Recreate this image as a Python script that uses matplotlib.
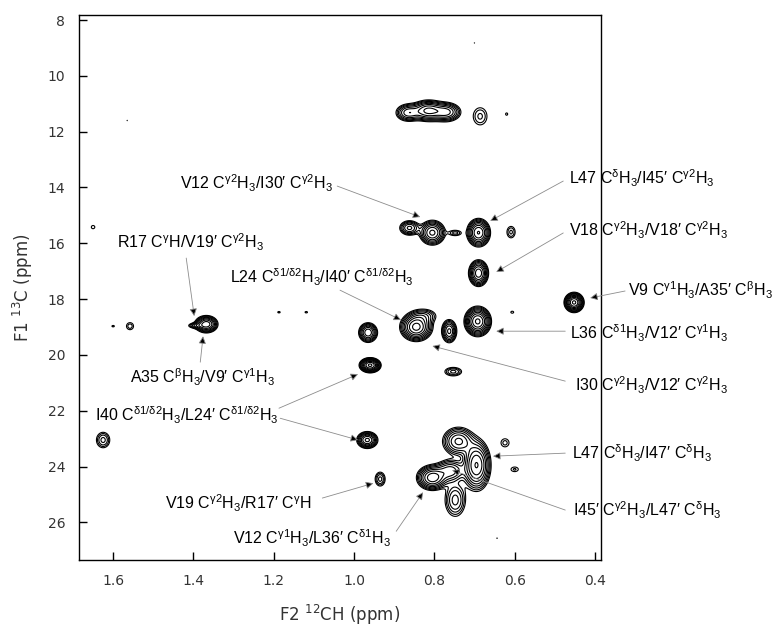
import numpy as np
import matplotlib
matplotlib.use("Agg")
import matplotlib.pyplot as plt

plt.rcParams['font.family'] = ['Liberation Sans', 'DejaVu Sans']

# peak list: 1H shift, 13C shift, height, widths
peak_h = [0.865, 0.815, 0.77, 0.686, 0.62, 0.70, 1.565,
          0.862, 0.805, 0.748, 0.69, 0.609,
          0.69,
          0.845, 0.825, 0.763, 0.692, 0.606, 0.452, 0.753,
          0.74, 0.695, 0.805, 0.76, 0.748, 0.624, 0.60, 0.644,
          0.965, 0.96, 0.967, 0.935,
          1.368, 1.395, 1.558, 1.60, 1.187, 1.119, 1.65, 1.625]
peak_c = [11.32, 11.25, 11.3, 11.45, 11.37, 8.82, 11.6,
          15.45, 15.62, 15.63, 15.62, 15.6,
          17.07,
          19.0, 18.6, 19.15, 18.8, 18.47, 18.12, 20.6,
          23.1, 23.95, 24.4, 24.15, 25.2, 23.15, 24.1, 26.57,
          19.2, 20.37, 23.05, 24.45,
          18.9, 18.95, 18.97, 18.97, 18.47, 18.47, 15.42, 23.05]
peak_amp = [5, 8, 6, 1.9, 1.15, 1.05, 1.05,
            4.5, 8, 2.0, 10, 1.9,
            9,
            11, 2.5, 6, 14, 1.2, 14, 2.6,
            6, 10, 9, 5, 3.5, 1.5, 1.4, 1.05,
            7, 14, 8, 2.6,
            9, 2.5, 1.6, 1.15, 1.15, 1.15, 1.3, 2.6]
peak_wh = [0.017, 0.021, 0.019, 0.015, 0.005, 0.002, 0.002,
           0.014, 0.016, 0.012, 0.014, 0.009,
           0.012,
           0.019, 0.02, 0.01, 0.015, 0.006, 0.011, 0.015,
           0.021, 0.017, 0.019, 0.02, 0.016, 0.011, 0.011, 0.003,
           0.012, 0.012, 0.013, 0.009,
           0.014, 0.012, 0.009, 0.006, 0.006, 0.006, 0.006, 0.012]
peak_wc = [0.17, 0.19, 0.18, 0.27, 0.08, 0.04, 0.04,
           0.15, 0.22, 0.08, 0.24, 0.18,
           0.23,
           0.24, 0.16, 0.22, 0.24, 0.06, 0.16, 0.11,
           0.27, 0.44, 0.22, 0.22, 0.37, 0.16, 0.1, 0.04,
           0.18, 0.12, 0.15, 0.18,
           0.15, 0.06, 0.13, 0.05, 0.05, 0.05, 0.08, 0.2]

# assignments: label, text anchor (left, centre), arrow start(s), arrow tip(s)
labels = [
    (r"V12 C$^{\mathregular{γ2}}$H$_{\mathregular{3}}$/I30′ C$^{\mathregular{γ2}}$H$_{\mathregular{3}}$",
     (1.433, 13.84), [((1.042, 13.95), (0.835, 15.06))]),
    (r"L47 C$^{\mathregular{δ}}$H$_{\mathregular{3}}$/I45′ C$^{\mathregular{γ2}}$H$_{\mathregular{3}}$",
     (0.464, 13.66), [((0.479, 13.77), (0.661, 15.2))]),
    (r"V18 C$^{\mathregular{γ2}}$H$_{\mathregular{3}}$/V18′ C$^{\mathregular{γ2}}$H$_{\mathregular{3}}$",
     (0.464, 15.53), [((0.479, 15.63), (0.646, 17.03))]),
    (r"V9 C$^{\mathregular{γ1}}$H$_{\mathregular{3}}$/A35′ C$^{\mathregular{β}}$H$_{\mathregular{3}}$",
     (0.317, 17.68), [((0.325, 17.71), (0.412, 17.96))]),
    (r"L36 C$^{\mathregular{δ1}}$H$_{\mathregular{3}}$/V12′ C$^{\mathregular{γ1}}$H$_{\mathregular{3}}$",
     (0.462, 19.22), [((0.474, 19.15), (0.646, 19.15))]),
    (r"I30 C$^{\mathregular{γ2}}$H$_{\mathregular{3}}$/V12′ C$^{\mathregular{γ2}}$H$_{\mathregular{3}}$",
     (0.449, 21.08), [((0.474, 20.94), (0.805, 19.68))]),
    (r"L47 C$^{\mathregular{δ}}$H$_{\mathregular{3}}$/I47′ C$^{\mathregular{δ}}$H$_{\mathregular{3}}$",
     (0.457, 23.52), [((0.474, 23.52), (0.654, 23.63))]),
    (r"I45′ C$^{\mathregular{γ2}}$H$_{\mathregular{3}}$/L47′ C$^{\mathregular{δ}}$H$_{\mathregular{3}}$",
     (0.454, 25.56), [((0.474, 25.56), (0.756, 24.13))]),
    (r"V12 C$^{\mathregular{γ1}}$H$_{\mathregular{3}}$/L36′ C$^{\mathregular{δ1}}$H$_{\mathregular{3}}$",
     (1.301, 26.57), [((0.895, 26.32), (0.828, 24.92))]),
    (r"R17 C$^{\mathregular{γ}}$H/V19′ C$^{\mathregular{γ2}}$H$_{\mathregular{3}}$",
     (1.59, 15.96), [((1.418, 16.53), (1.398, 18.61))]),
    (r"L24 C$^{\mathregular{δ1/δ2}}$H$_{\mathregular{3}}$/I40′ C$^{\mathregular{δ1/δ2}}$H$_{\mathregular{3}}$",
     (1.309, 17.21), [((1.035, 17.68), (0.883, 18.75))]),
    (r"A35 C$^{\mathregular{β}}$H$_{\mathregular{3}}$/V9′ C$^{\mathregular{γ1}}$H$_{\mathregular{3}}$",
     (1.558, 20.8), [((1.383, 20.26), (1.376, 19.33))]),
    (r"I40 C$^{\mathregular{δ1/δ2}}$H$_{\mathregular{3}}$/L24′ C$^{\mathregular{δ1/δ2}}$H$_{\mathregular{3}}$",
     (1.645, 22.16), [((1.187, 21.91), (0.99, 20.69)), ((1.184, 22.27), (0.99, 23.05))]),
    (r"V19 C$^{\mathregular{γ2}}$H$_{\mathregular{3}}$/R17′ C$^{\mathregular{γ}}$H",
     (1.47, 25.31), [((1.079, 25.13), (0.952, 24.6))]),
]

h = np.linspace(0.385, 1.685, 900)
c = np.linspace(7.82, 27.35, 900)
H, C = np.meshgrid(h, c)
Z = np.zeros_like(H)
for x0, y0, a, sx, sy in zip(peak_h, peak_c, peak_amp, peak_wh, peak_wc):
    Z += a * np.exp(-((H - x0) ** 2 / (2 * sx ** 2) + (C - y0) ** 2 / (2 * sy ** 2)))

levels = 1.0 * 1.33 ** np.arange(11)

fig = plt.figure(figsize=(7.8, 6.31), dpi=100)
ax = fig.add_axes([0.1013, 0.1125, 0.6692, 0.8637])
ax.contour(H, C, Z, levels=levels, colors='k', linewidths=0.8)

ax.set_xlim(1.685, 0.385)
ax.set_ylim(27.35, 7.82)
ax.set_xticks([1.6, 1.4, 1.2, 1.0, 0.8, 0.6, 0.4])
ax.set_yticks([8, 10, 12, 14, 16, 18, 20, 22, 24, 26])
ax.tick_params(direction='in', length=6, width=1, labelsize=10, pad=10)
for lab in ax.get_xticklabels() + ax.get_yticklabels():
    lab.set_family('DejaVu Sans')
    lab.set_color('#333333')
for s in ax.spines.values():
    s.set_linewidth(1.0)

ax.set_xlabel(r"F2 $^{\mathregular{12}}$CH (ppm)", fontsize=12, labelpad=11,
              family=['DejaVu Sans'], color='#333333')
ax.set_ylabel(r"F1 $^{\mathregular{13}}$C (ppm)", fontsize=12, labelpad=9,
              family=['DejaVu Sans'], color='#333333')

for text, (tx, ty), arrows in labels:
    ax.text(tx, ty, text, fontsize=11.5, ha='left', va='center', clip_on=False)
    for start, tip in arrows:
        ax.annotate('', xy=tip, xytext=start, annotation_clip=False,
                    arrowprops=dict(arrowstyle='-|>', lw=0.6, ec='0.55', fc='k',
                                    mutation_scale=11, shrinkA=0, shrinkB=0))

fig.savefig("out.png", dpi=100)
